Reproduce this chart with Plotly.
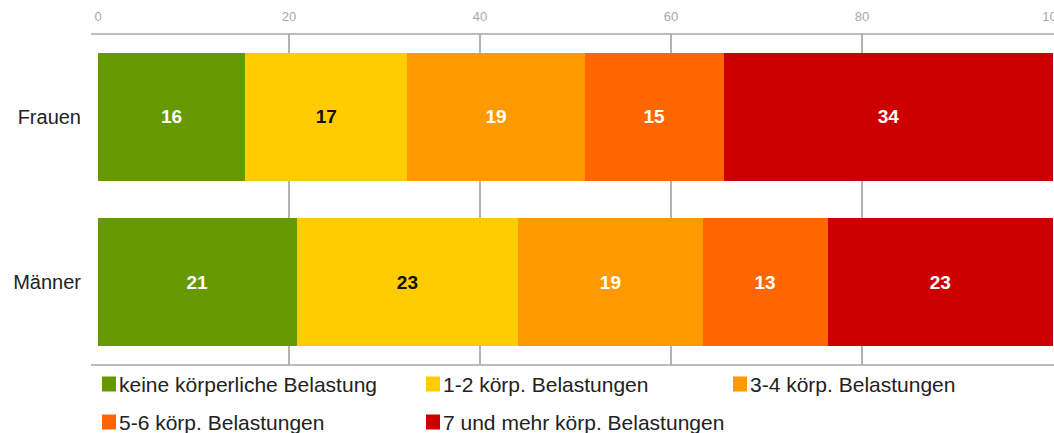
import plotly.graph_objects as go

categories = ["Frauen", "Männer"]
series_names = [
    "keine körperliche Belastung",
    "1-2 körp. Belastungen",
    "3-4 körp. Belastungen",
    "5-6 körp. Belastungen",
    "7 und mehr körp. Belastungen",
]
colors = ["#669900", "#FFCC00", "#FF9900", "#FF6600", "#CC0000"]
text_colors = ["#FFFFFF", "#111111", "#FFFFFF", "#FFFFFF", "#FFFFFF"]

# bar lengths (per series: Frauen, Männer)
values = [
    [15.4, 20.8],
    [17.0, 23.2],
    [18.55, 19.3],
    [14.6, 13.1],
    [34.45, 23.6],
]
# printed labels
labels = [
    ["16", "21"],
    ["17", "23"],
    ["19", "19"],
    ["15", "13"],
    ["34", "23"],
]
x_ticks = [0, 20, 40, 60, 80, 100]

W, H = 1054, 433
ML, MR, MT, MB = 98, 0, 34, 68
PW = W - ML - MR
PH = H - MT - MB

def px_x(px):
    return (px - ML) / PW

def px_y(py):
    return (H - MB - py) / PH

fig = go.Figure()
for name, vals, labs, col, tcol in zip(series_names, values, labels, colors, text_colors):
    fig.add_trace(go.Bar(
        y=categories, x=vals, name=name, orientation="h",
        marker=dict(color=col, line=dict(width=0)),
        text=labs, textposition="inside", insidetextanchor="middle",
        textangle=0, constraintext="none",
        textfont=dict(family="Liberation Sans, Arial, sans-serif", size=19, color=tcol, weight="bold"),
        showlegend=False, hoverinfo="skip",
    ))

shapes = []
annotations = []
# frame lines top & bottom, extending a little left
for yp in (0, 1):
    shapes.append(dict(type="line", xref="paper", yref="paper",
                       x0=px_x(91), x1=1, y0=yp, y1=yp,
                       line=dict(color="#A6A6A6", width=1.5), layer="above"))

# manual legend
legend_pos = [(102, 0), (426, 0), (733, 0), (102, 1), (426, 1)]
row_y = [384, 422]
for (lx, row), name, col in zip(legend_pos, series_names, colors):
    cy = row_y[row]
    shapes.append(dict(type="rect", xref="paper", yref="paper",
                       x0=px_x(lx), x1=px_x(lx + 14), y0=px_y(cy + 7.5), y1=px_y(cy - 7.5),
                       fillcolor=col, line=dict(width=0)))
    annotations.append(dict(xref="paper", yref="paper", x=px_x(lx + 15), y=px_y(cy),
                            text=name, showarrow=False, xanchor="left", yanchor="middle",
                            font=dict(family="Liberation Sans, Arial, sans-serif", size=21, color="#222222")))

fig.update_layout(
    width=W, height=H,
    margin=dict(l=ML, r=MR, t=MT, b=MB, pad=0, autoexpand=False),
    barmode="stack", bargap=0.225,
    plot_bgcolor="white", paper_bgcolor="white",
    xaxis=dict(range=[0, 100.1], side="top", tickvals=x_ticks,
               showgrid=True, gridcolor="#B3B3B3", gridwidth=1.5,
               zeroline=False, showline=False, ticks="", ticklabelstandoff=9,
               ticklabeloverflow="allow", automargin=False,
               tickfont=dict(family="Liberation Sans, Arial, sans-serif", size=13, color="#A8A8A8"),
               fixedrange=True),
    yaxis=dict(autorange="reversed", showgrid=False, zeroline=False, showline=False,
               ticks="", ticklabelstandoff=16, automargin=False,
               tickfont=dict(family="Liberation Sans, Arial, sans-serif", size=20, color="#222222"),
               fixedrange=True),
    shapes=shapes, annotations=annotations,
    showlegend=False,
)

fig.write_html("out.html", config={"displayModeBar": False},
               post_script="document.body.style.margin='0';document.body.style.overflow='hidden';")
